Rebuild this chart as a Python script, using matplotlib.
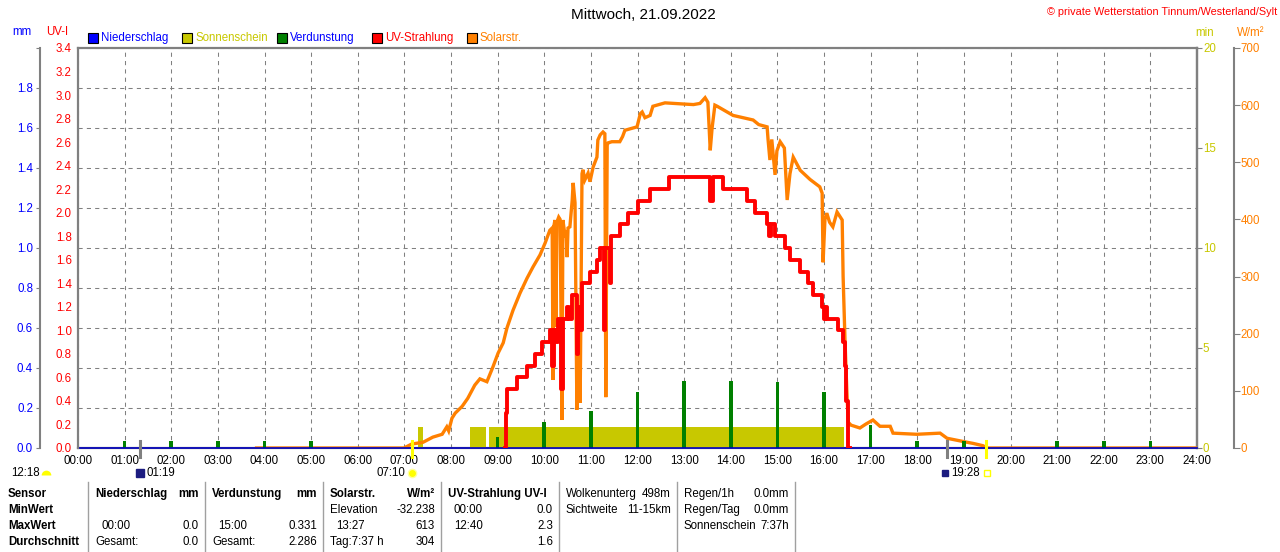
import matplotlib

matplotlib.use("Agg")
import matplotlib.pyplot as plt  # noqa: E402
import matplotlib.transforms as mtransforms  # noqa: E402
import numpy as np  # noqa: E402
from matplotlib.lines import Line2D  # noqa: E402
from matplotlib.patches import Rectangle  # noqa: E402

W, H = 1280, 552
TITLE = "Mittwoch, 21.09.2022"
COPYRIGHT = "© private Wetterstation Tinnum/Westerland/Sylt"

# --- series (hours of day) ---
solar_h = [3.83, 6.99, 7.16, 7.40, 7.61, 7.81, 7.91, 7.95, 8.02, 8.09, 8.24, 8.36,
           8.51, 8.62, 8.77, 8.90, 9.01, 9.12, 9.20, 9.33, 9.48, 9.63, 9.76, 9.91,
           10.02, 10.12, 10.17, 10.19, 10.21, 10.23, 10.25, 10.27, 10.31, 10.34,
           10.38, 10.40, 10.45, 10.47, 10.49, 10.51, 10.55, 10.60, 10.62, 10.66,
           10.70, 10.72, 10.77, 10.81, 10.83, 10.87, 10.94, 10.98, 11.05, 11.13,
           11.15, 11.20, 11.26, 11.30, 11.32, 11.35, 11.37, 11.45, 11.62, 11.68,
           11.73, 11.99, 12.06, 12.10, 12.16, 12.27, 12.33, 12.59, 12.98, 13.20,
           13.34, 13.45, 13.51, 13.56, 13.60, 13.66, 13.71, 13.88, 14.05, 14.48,
           14.60, 14.78, 14.80, 14.84, 14.88, 14.95, 14.99, 15.06, 15.15, 15.21,
           15.27, 15.34, 15.49, 15.70, 15.91, 15.96, 15.98, 16.02, 16.06, 16.12,
           16.19, 16.28, 16.39, 16.41, 16.45, 16.49, 16.52, 16.58, 16.77, 16.90,
           17.05, 17.20, 17.42, 17.48, 17.99, 18.49, 18.64, 19.07, 19.20, 19.41,
           19.50, 24.0]
solar_w = [0, 0, 7, 10, 19, 24, 37, 30, 52, 61, 73, 87,
           110, 121, 116, 142, 166, 184, 210, 241, 271, 297, 317, 338,
           359, 381, 385, 119, 390, 399, 212, 395, 404, 400,
           49, 399, 369, 381, 334, 385, 387, 434, 464, 429,
           67, 224, 79, 480, 487, 469, 481, 466, 492, 509,
           539, 548, 553, 550, 89, 530, 534, 536, 536, 545,
           556, 562, 585, 588, 578, 582, 598, 604, 602, 601,
           603, 613, 605, 521, 560, 600, 598, 590, 582, 574,
           566, 562, 540, 504, 540, 478, 520, 536, 525, 434,
           480, 509, 486, 470, 457, 446, 325, 400, 411, 395,
           387, 413, 399, 300, 189, 100, 45, 40, 35, 42,
           49, 38, 38, 26, 24, 26, 17, 10, 8, 4,
           0, 0]

uv_h = [9.15, 9.19, 9.21, 9.41, 9.63, 9.80, 9.95, 10.12, 10.17, 10.20, 10.25, 10.29,
        10.36, 10.40, 10.49, 10.53, 10.60, 10.70, 10.73, 10.76, 10.80, 10.98, 11.13,
        11.20, 11.28, 11.31, 11.40, 11.43, 11.62, 11.80, 12.02, 12.27, 12.67, 13.55,
        13.62, 13.83, 14.35, 14.52, 14.78, 14.82, 14.86, 14.95, 15.17, 15.27, 15.49,
        15.66, 15.77, 15.96, 16.00, 16.02, 16.06, 16.30, 16.41, 16.45, 16.48, 16.52,
        16.55]
uv_i = [0.0, 0.3, 0.5, 0.6, 0.7, 0.8, 0.9, 1.0, 0.7, 1.0, 0.9, 1.1,
        0.5, 1.1, 1.2, 1.1, 1.3, 0.8, 1.2, 1.0, 1.4, 1.5, 1.6,
        1.7, 1.0, 1.7, 1.4, 1.8, 1.9, 2.0, 2.1, 2.2, 2.3, 2.1,
        2.3, 2.2, 2.1, 2.0, 1.9, 1.8, 1.9, 1.8, 1.7, 1.6, 1.5,
        1.4, 1.3, 1.2, 1.1, 1.2, 1.1, 1.0, 0.9, 0.7, 0.4, 0.0,
        0.0]

sun_start = [7.29, 8.41, 8.82]
sun_end = [7.40, 8.75, 16.43]
sun_min = [1.05, 1.05, 1.05]

evap_h = [1, 2, 3, 4, 5, 9, 10, 11, 12, 13, 14, 15, 16, 17, 18, 19, 21, 22, 23]
evap_mm = [0.035, 0.035, 0.035, 0.035, 0.035, 0.055, 0.13, 0.185, 0.28, 0.335,
           0.335, 0.331, 0.28, 0.115, 0.035, 0.035, 0.035, 0.035, 0.035]

rain_h = [0, 24]
rain_mm = [0.0, 0.0]

# sun / moon events below the time axis
event_h = [1.32, 7.17, 18.64, 19.47]
event_col = ["#808080", "#ffff00", "#808080", "#ffff00"]

# --- summary table ---
row_names = ["Sensor", "MinWert", "MaxWert", "Durchschnitt"]
col_heads = ["Niederschlag", "Verdunstung", "Solarstr.", "UV-Strahlung UV-I",
             "Wolkenunterg", "Regen/1h"]
col_units = ["mm", "mm", "W/m²", "", "498m", "0.0mm"]
col_left = [["", "00:00", "Gesamt:"],
            ["", "15:00", "Gesamt:"],
            ["Elevation", "13:27", "Tag:7:37 h"],
            ["00:00", "12:40", ""],
            ["Sichtweite", "", ""],
            ["Regen/Tag", "Sonnenschein", ""]]
col_right = [["", "0.0", "0.0"],
             ["", "0.331", "2.286"],
             ["-32.238", "613", "304"],
             ["0.0", "2.3", "1.6"],
             ["11-15km", "", ""],
             ["0.0mm", "7:37h", ""]]
col_indent = [[0, 6, 0], [0, 6, 0], [0, 6, 0], [6, 6, 0], [0, 0, 0], [0, 0, 0]]
col_bold = [True, True, True, True, False, False]

BLUE, OLIVE, GREEN, RED, ORANGE, GRAY = "#0000ff", "#c8c800", "#008000", "#ff0000", "#ff8000", "#808080"


def fx(px):
    return px / W


def fy(py):
    return 1 - py / H


plt.rcParams["font.family"] = ["Liberation Sans", "DejaVu Sans"]
plt.rcParams["font.size"] = 8.3

fig = plt.figure(figsize=(W / 100, H / 100), dpi=100)
ax = fig.add_axes([fx(78), fy(448), (1197 - 78) / W, 400 / H])

# host: mm scale + grid
mm_ticks = np.round(np.arange(0, 2.01, 0.2), 1)
ax.set_xlim(0, 24)
ax.set_ylim(0, 2.0)
ax.set_xticks(range(25))
ax.set_xticklabels([f"{h:02d}:00" for h in range(25)])
ax.tick_params(axis="x", length=0, pad=5)
ax.set_yticks(mm_ticks)
ax.set_yticklabels([f"{v:.1f}" for v in mm_ticks[:-1]] + [""])
ax.tick_params(axis="y", color=GRAY, labelcolor=BLUE, length=3, pad=2)
ax.grid(True, color=GRAY, linestyle=(0, (4, 4)), linewidth=0.75)
ax.spines["left"].set_position(("outward", 27.4))
ax.spines["left"].set_color(GRAY)
ax.spines["left"].set_linewidth(1.5)
for s in ["top", "bottom", "right"]:
    ax.spines[s].set_color(GRAY)
    ax.spines[s].set_linewidth(1.6)

# sunshine (min)
ax_sun = ax.twinx()
ax_sun.set_ylim(0, 20)
ax_sun.set_yticks([0, 5, 10, 15, 20])
ax_sun.tick_params(axis="y", color=GRAY, labelcolor=OLIVE, length=3.5, pad=0.8)
for s in ["top", "bottom", "left"]:
    ax_sun.spines[s].set_visible(False)
ax_sun.spines["right"].set_color(GRAY)
ax_sun.spines["right"].set_linewidth(1.6)
ax_sun.bar(sun_start, sun_min, width=np.subtract(sun_end, sun_start), align="edge",
           color=OLIVE, linewidth=0)

# solar radiation (W/m²)
ax_sol = ax.twinx()
ax_sol.set_ylim(0, 700)
ax_sol.set_yticks(range(0, 701, 100))
ax_sol.tick_params(axis="y", color=GRAY, labelcolor=ORANGE, length=4, pad=0.8)
for s in ["top", "bottom", "left"]:
    ax_sol.spines[s].set_visible(False)
ax_sol.spines["right"].set_position(("outward", 26.6))
ax_sol.spines["right"].set_color(GRAY)
ax_sol.spines["right"].set_linewidth(1.5)
ax_sol.plot(solar_h, solar_w, color=ORANGE, linewidth=2.4, solid_joinstyle="miter")

# evaporation + precipitation (mm)
ax_ev = ax.twinx()
ax_ev.set_ylim(0, 2.0)
ax_ev.set_yticks([])
for s in ax_ev.spines.values():
    s.set_visible(False)
ax_ev.bar(evap_h, evap_mm, width=0.08, color=GREEN, linewidth=0)
ax_ev.plot(rain_h, rain_mm, color="#0000c0", linewidth=1.2, clip_on=False)

# UV index
uv_ticks = np.round(np.arange(0, 3.41, 0.2), 1)
ax_uv = ax.twinx()
ax_uv.set_ylim(0, 3.4)
ax_uv.yaxis.tick_left()
ax_uv.set_yticks(uv_ticks)
ax_uv.set_yticklabels([f"{v:.1f}" for v in uv_ticks])
ax_uv.tick_params(axis="y", length=0, labelcolor=RED, pad=4.5)
for s in ["top", "bottom", "right"]:
    ax_uv.spines[s].set_visible(False)
ax_uv.spines["left"].set_visible(True)
ax_uv.spines["left"].set_color(GRAY)
ax_uv.spines["left"].set_linewidth(1.6)
ax_uv.plot(uv_h, uv_i, color=RED, linewidth=2.8, drawstyle="steps-post")

# event ticks across the time axis
xa = ax.get_xaxis_transform()
for h, c in zip(event_h, event_col):
    ax_uv.plot([h, h], [-0.022, 0.017], transform=xa, color=c, linewidth=2.2, clip_on=False)

# event labels below the axis
bt = mtransforms.blended_transform_factory(ax.transData, fig.transFigure)
ylab = fy(473)
fig.text(fx(11), ylab, "12:18", ha="left", va="center")
fig.add_artist(Line2D([fx(46)], [fy(475)], marker="o", markersize=7, fillstyle="top",
                      markerfacecolor="#ffff00", markerfacecoloralt="none",
                      markeredgecolor="none", transform=fig.transFigure))
fig.text(event_h[0] + 0.14, ylab, "01:19", ha="left", va="center", transform=bt)
fig.add_artist(Line2D([event_h[0]], [ylab], marker="s", markersize=6, color="#1c1c80",
                      transform=bt))
fig.text(event_h[1] - 0.15, ylab, "07:10", ha="right", va="center", transform=bt)
fig.add_artist(Line2D([event_h[1]], [ylab], marker="o", markersize=6,
                      markerfacecolor="#ffff00", markeredgecolor="#ffffa0", transform=bt))
fig.text(event_h[3] - 0.12, ylab, "19:28", ha="right", va="center", transform=bt)
fig.add_artist(Line2D([event_h[2] - 0.05], [ylab], marker="s", markersize=5, color="#1c1c80",
                      transform=bt))
fig.add_artist(Line2D([event_h[3] + 0.02], [ylab], marker="s", markersize=5,
                      markerfacecolor="none", markeredgecolor="#ffff00", transform=bt))

# headers / title
fig.text(fx(643), fy(15), TITLE, ha="center", va="center", fontsize=11)
fig.text(fx(1277), fy(12), COPYRIGHT, ha="right", va="center", color=RED, fontsize=7.8)
fig.text(fx(22), fy(32), "mm", ha="center", va="center", color=BLUE)
fig.text(fx(57), fy(32), "UV-I", ha="center", va="center", color=RED)
fig.text(fx(1205), fy(33), "min", ha="center", va="center", color=OLIVE)
fig.text(fx(1237), fy(33), "W/m²", ha="left", va="center", color=ORANGE)

# legend
leg_x = [88, 182, 277, 372, 467]
leg_lab = ["Niederschlag", "Sonnenschein", "Verdunstung", "UV-Strahlung", "Solarstr."]
leg_face = [BLUE, OLIVE, GREEN, RED, ORANGE]
leg_text = [BLUE, OLIVE, BLUE, RED, ORANGE]
for x, lab, fc, tc in zip(leg_x, leg_lab, leg_face, leg_text):
    fig.add_artist(Rectangle((fx(x), fy(43)), 10 / W, 10 / H, facecolor=fc,
                             edgecolor="black", linewidth=0.8, transform=fig.transFigure))
    fig.text(fx(x + 13), fy(38), lab, ha="left", va="center", color=tc)

# summary table
row_y = [494, 510, 526, 542]
for name, y in zip(row_names, row_y):
    fig.text(fx(8), fy(y), name, ha="left", va="center", fontweight="bold")
sep_x = [88, 205, 323, 441, 559, 677, 795]
for x in sep_x:
    fig.add_artist(Line2D([fx(x), fx(x)], [fy(482), fy(552)], color="#a0a0a0",
                          linewidth=1.0, transform=fig.transFigure))
for i in range(len(col_heads)):
    x0, x1 = sep_x[i] + 7, sep_x[i + 1] - 6
    wgt = "bold" if col_bold[i] else "normal"
    fig.text(fx(x0), fy(row_y[0]), col_heads[i], ha="left", va="center", fontweight=wgt)
    fig.text(fx(x1), fy(row_y[0]), col_units[i], ha="right", va="center", fontweight=wgt)
    for r in range(3):
        fig.text(fx(x0 + col_indent[i][r]), fy(row_y[r + 1]), col_left[i][r],
                 ha="left", va="center")
        fig.text(fx(x1), fy(row_y[r + 1]), col_right[i][r], ha="right", va="center")

fig.savefig("out.png", dpi=100)
